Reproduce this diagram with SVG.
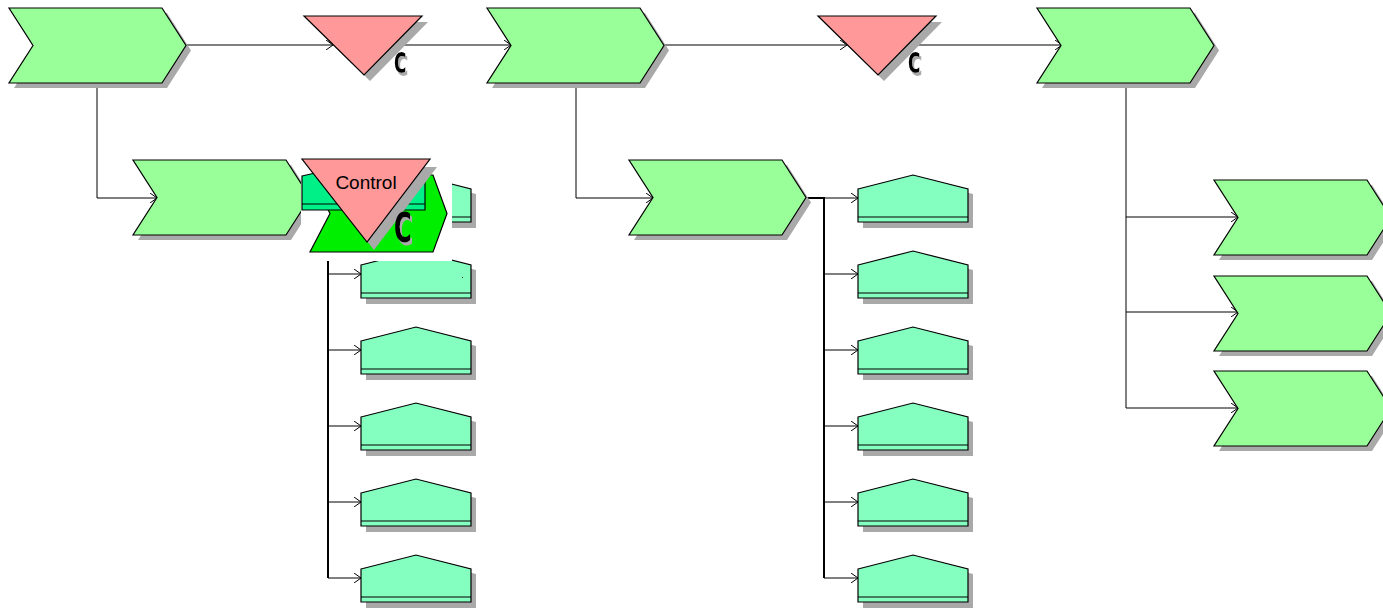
<svg xmlns="http://www.w3.org/2000/svg" width="1383" height="609" viewBox="0 0 1383 609">
<style>
.sh{fill:#a9a9a9}
.chev{fill:#99ff99;stroke:#000;stroke-width:1.2}
.tri{fill:#ff9999;stroke:#000;stroke-width:1.2}
.box{fill:#84ffc0;stroke:#000;stroke-width:1.2}
.ln{fill:none;stroke:#000;stroke-width:1}
.trunk{fill:none;stroke:#000;stroke-width:2}
.cg{font-family:"DejaVu Sans",sans-serif;font-weight:bold;fill:#000;filter:url(#cshadow)}
</style>
<defs>
<filter id="cshadow" x="-50%" y="-50%" width="200%" height="200%">
<feOffset in="SourceAlpha" dx="3" dy="3" result="o"/>
<feFlood flood-color="#aaaaaa"/>
<feComposite in2="o" operator="in" result="s"/>
<feMerge><feMergeNode in="s"/><feMergeNode in="SourceGraphic"/></feMerge>
</filter>
<g id="chevron">
<polygon class="sh" points="5,5 158,5 182,42.5 158,80 5,80 29,42.5"/>
<polygon class="chev" points="0,0 153,0 177,37.5 153,75 0,75 24,37.5"/>
</g>
<g id="product">
<polygon class="sh" points="5,19 60,5 115,19 115,53 5,53"/>
<polygon class="box" points="0,14 55,0 110,14 110,47 0,47"/>
<line x1="0" y1="42" x2="110" y2="42" stroke="#000" stroke-width="1.2"/>
</g>
<g id="rule">
<polygon class="sh" points="6,6 124,6 66,65"/>
<polygon class="tri" points="0,0 118,0 60,59"/>
<text class="cg" x="0" y="0" transform="translate(90,57) scale(0.6,1)" font-size="28">C</text>
</g>
<marker id="arr" markerWidth="8" markerHeight="10" refX="7" refY="5" orient="auto" markerUnits="userSpaceOnUse">
<path d="M0,0 L7,5 L0,10" fill="none" stroke="#000" stroke-width="1"/>
</marker>
</defs>
<rect width="1383" height="609" fill="#fff"/>

<g id="connectors">
<line class="ln" x1="186" y1="45" x2="333" y2="45" marker-end="url(#arr)"/>
<line class="ln" x1="394" y1="45" x2="511" y2="45" marker-end="url(#arr)"/>
<line class="ln" x1="664" y1="45" x2="847" y2="45" marker-end="url(#arr)"/>
<line class="ln" x1="908" y1="45" x2="1062" y2="45" marker-end="url(#arr)"/>
<polyline class="ln" points="97,83 97,198 157,198" marker-end="url(#arr)"/>
<polyline class="ln" points="576,83 576,198 653,198" marker-end="url(#arr)"/>
<polyline class="ln" points="1126,83 1126,217 1238,217" marker-end="url(#arr)"/>
<polyline class="ln" points="1126,217 1126,312 1238,312" marker-end="url(#arr)"/>
<polyline class="ln" points="1126,312 1126,408 1238,408" marker-end="url(#arr)"/>
<line class="trunk" x1="806" y1="198" x2="825" y2="198"/>
<line class="trunk" x1="824" y1="198" x2="824" y2="578"/>
<line class="ln" x1="824" y1="198" x2="858" y2="198" marker-end="url(#arr)"/>
<line class="ln" x1="824" y1="274" x2="858" y2="274" marker-end="url(#arr)"/>
<line class="ln" x1="824" y1="350" x2="858" y2="350" marker-end="url(#arr)"/>
<line class="ln" x1="824" y1="426" x2="858" y2="426" marker-end="url(#arr)"/>
<line class="ln" x1="824" y1="502" x2="858" y2="502" marker-end="url(#arr)"/>
<line class="ln" x1="824" y1="578" x2="858" y2="578" marker-end="url(#arr)"/>
<line class="trunk" x1="310" y1="198" x2="329" y2="198"/>
<line class="trunk" x1="328" y1="198" x2="328" y2="578"/>
<line class="ln" x1="328" y1="198" x2="361" y2="198" marker-end="url(#arr)"/>
<line class="ln" x1="328" y1="274" x2="361" y2="274" marker-end="url(#arr)"/>
<line class="ln" x1="328" y1="350" x2="361" y2="350" marker-end="url(#arr)"/>
<line class="ln" x1="328" y1="426" x2="361" y2="426" marker-end="url(#arr)"/>
<line class="ln" x1="328" y1="502" x2="361" y2="502" marker-end="url(#arr)"/>
<line class="ln" x1="328" y1="578" x2="361" y2="578" marker-end="url(#arr)"/>
</g>

<g id="event1"><use href="#chevron" x="9" y="8"/></g>
<g id="rule1"><use href="#rule" x="304" y="16"/></g>
<g id="event2"><use href="#chevron" x="487" y="8"/></g>
<g id="rule2"><use href="#rule" x="818" y="16"/></g>
<g id="event3"><use href="#chevron" x="1037" y="8"/></g>

<g id="event1b"><use href="#chevron" x="133" y="160"/></g>
<g id="event2b"><use href="#chevron" x="629" y="160"/></g>

<g id="event3a"><use href="#chevron" x="1214" y="180"/></g>
<g id="event3b"><use href="#chevron" x="1214" y="276"/></g>
<g id="event3c"><use href="#chevron" x="1214" y="371"/></g>

<g id="prodL1"><use href="#product" x="361" y="175"/></g>
<g id="prodL2"><use href="#product" x="361" y="251"/></g>
<g id="prodL3"><use href="#product" x="361" y="327"/></g>
<g id="prodL4"><use href="#product" x="361" y="403"/></g>
<g id="prodL5"><use href="#product" x="361" y="479"/></g>
<g id="prodL6"><use href="#product" x="361" y="555"/></g>

<g id="prodM1"><use href="#product" x="858" y="175"/></g>
<g id="prodM2"><use href="#product" x="858" y="251"/></g>
<g id="prodM3"><use href="#product" x="858" y="327"/></g>
<g id="prodM4"><use href="#product" x="858" y="403"/></g>
<g id="prodM5"><use href="#product" x="858" y="479"/></g>
<g id="prodM6"><use href="#product" x="858" y="555"/></g>

<g id="control">
<rect x="301" y="157" width="151" height="104" fill="#fff"/>
<polygon points="310,175 433,175 447,213.5 433,252 310,252 330,213.5" fill="#00ee00" stroke="#000" stroke-width="1.2"/>
<polygon points="302,176 363,162 425,176 425,210 302,210" fill="#00f088" stroke="#000" stroke-width="1.2"/>
<line x1="302" y1="204" x2="425" y2="204" stroke="#000" stroke-width="1.2"/>
<polygon class="sh" points="309,167 437,167 374,250"/>
<polygon class="tri" points="302,159 430,159 367,242"/>
<text x="366" y="189" font-family="Liberation Sans,Arial,sans-serif" font-size="19" text-anchor="middle" fill="#000">Control</text>
<text class="cg" x="0" y="0" transform="translate(394,242) scale(0.6,1)" font-size="40">C</text>
<rect x="462" y="277" width="1" height="1" fill="#333"/>
</g>
</svg>
